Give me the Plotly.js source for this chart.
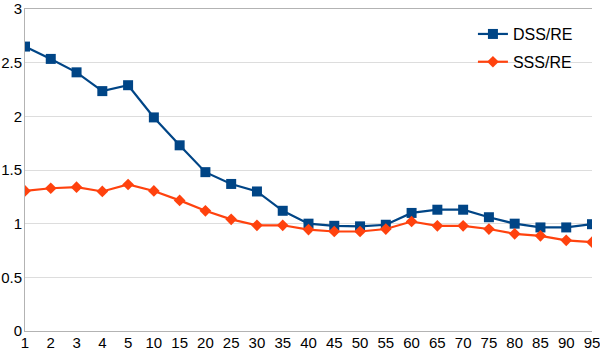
<!DOCTYPE html>
<html>
<head>
<meta charset="utf-8">
<script src="https://cdn.plot.ly/plotly-3.0.1.min.js"></script>
<style>
  html, body { margin: 0; padding: 0; background: #ffffff; }
  #plot-container { width: 600px; height: 351px; }
</style>
</head>
<body>
<div id="plot-container"></div>
<script>
// category labels along the x axis
const categories = ['1', '2', '3', '4', '5', '10', '15', '20', '25', '30', '35', '40',
                    '45', '50', '55', '60', '65', '70', '75', '80', '85', '90', '95'];
const dssRe = [2.65, 2.535, 2.41, 2.235, 2.29, 1.99, 1.73, 1.48, 1.37, 1.30, 1.12, 1.00,
               0.98, 0.975, 0.99, 1.10, 1.13, 1.13, 1.06, 1.00, 0.965, 0.965, 0.995];
const sssRe = [1.305, 1.33, 1.34, 1.30, 1.365, 1.305, 1.217, 1.12, 1.04, 0.985, 0.985, 0.945,
               0.927, 0.927, 0.95, 1.02, 0.98, 0.98, 0.95, 0.905, 0.887, 0.845, 0.828];

document.addEventListener('DOMContentLoaded', () => {
    'use strict';

    const traceDss = {
        x: categories,
        y: dssRe,
        mode: 'lines+markers',
        name: 'DSS/RE',
        legendgroup: 'dss',
        line: { color: '#004586', width: 2.2 },
        marker: { symbol: 'square', size: 10, color: '#004586' }
    };

    const traceSss = {
        x: categories,
        y: sssRe,
        mode: 'lines+markers',
        name: 'SSS/RE',
        legendgroup: 'sss',
        line: { color: '#ff420e', width: 2.2 },
        marker: { symbol: 'diamond', size: 9, color: '#ff420e' }
    };

    const layout = {
        width: 600,
        height: 351,
        font: { family: 'Liberation Sans, Arial, sans-serif', size: 16, color: '#000000' },
        showlegend: true,
        legend: {
            x: 0.79, y: 0.975, xanchor: 'left', yanchor: 'top',
            bgcolor: 'rgba(0,0,0,0)',
            font: { size: 16 },
            traceorder: 'grouped',
            tracegroupgap: 4
        },
        xaxis: {
            type: 'category',
            range: [0, 22],
            autorange: false,
            showgrid: false,
            showline: true,
            linecolor: '#b3b3b3',
            mirror: true,
            ticks: '',
            tickfont: { size: 15 },
            ticklabelstandoff: -2,
            zeroline: false,
            fixedrange: true
        },
        yaxis: {
            range: [0, 3],
            autorange: false,
            dtick: 0.5,
            showgrid: true,
            gridcolor: '#dddddd',
            showline: true,
            linecolor: '#b3b3b3',
            ticks: '',
            tickfont: { size: 15 },
            ticklabelstandoff: -1,
            zeroline: false,
            fixedrange: true
        },
        plot_bgcolor: '#ffffff',
        paper_bgcolor: '#ffffff',
        margin: { t: 9, b: 20, l: 25, r: 8 }
    };

    Plotly.newPlot('plot-container', [traceDss, traceSss], layout, { displayModeBar: false, staticPlot: true });
});
</script>
</body>
</html>
